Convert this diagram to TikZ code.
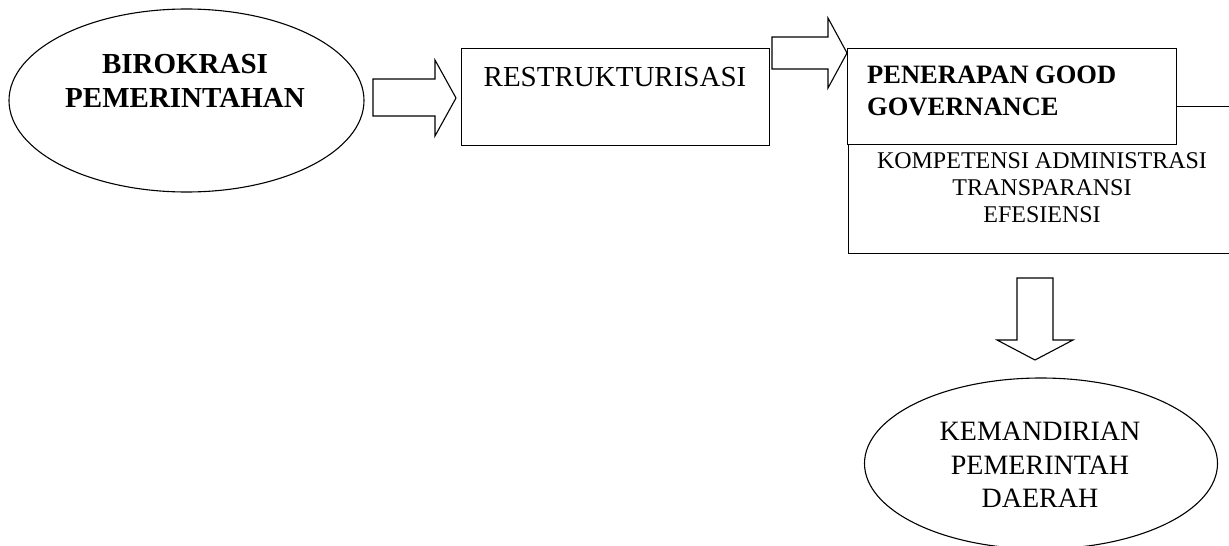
\documentclass[tikz,border=0pt]{standalone}
\usepackage{fontspec}
\setmainfont{Liberation Serif}
\usetikzlibrary{shapes.geometric}
\begin{document}
\begin{tikzpicture}[x=1pt,y=-1pt,
  outline/.style={draw=black,line width=1.1pt},
  oval/.style={outline,ellipse,inner sep=0pt},
  boxshape/.style={outline,rectangle,inner sep=0pt,anchor=north west},
  blockarrow/.style={outline,fill=white,line join=miter},
  txt/.style={inner sep=0pt,text=black}]
\useasboundingbox (0,0) rectangle (1229,546);
\clip (0,0) rectangle (1229,546);
\fill[white] (0,0) rectangle (1229,546);

% left ellipse
\node[oval,minimum width=355pt,minimum height=183pt] (birok) at (186.5,100.5) {};
\node[txt,align=center,font=\bfseries\fontsize{29}{34}\selectfont] (birokt) at (185,80.5) {BIROKRASI\\PEMERINTAHAN};

% arrow 1
\draw[blockarrow] (373,79) coordinate (a1s) -- (435,79) -- (435,60) -- (456,98) coordinate (a1t) -- (435,136) -- (435,116) -- (373,116) -- cycle;

% restrukturisasi box
\node[boxshape,minimum width=308pt,minimum height=97pt] (restr) at (461,48) {};
\node[txt,anchor=base,font=\fontsize{29}{34}\selectfont] (restrt) at (615,86) {RESTRUKTURISASI};

% arrow 2
\draw[blockarrow] (772,37) coordinate (a2s) -- (828,37) -- (828,18) -- (847,53) coordinate (a2t) -- (828,88) -- (828,69) -- (772,69) -- cycle;

% big box behind
\node[boxshape,minimum width=400pt,minimum height=147pt] (komp) at (848,106) {};
\node[txt,align=center,font=\fontsize{24}{27}\selectfont] (kompt) at (1042,187.5) {KOMPETENSI ADMINISTRASI\\TRANSPARANSI\\EFESIENSI};

% penerapan box on top
\node[boxshape,fill=white,minimum width=329pt,minimum height=96pt] (pener) at (847,48) {};
\node[txt,anchor=west,align=left,font=\bfseries\fontsize{26.5}{32}\selectfont] (penert) at (867,91) {PENERAPAN GOOD\\GOVERNANCE};

% down arrow
\draw[blockarrow] (1017,278) coordinate (a3s) -- (1053,278) -- (1053,340) -- (1073,340) -- (1035,360) coordinate (a3t) -- (997,340) -- (1017,340) -- cycle;

% bottom ellipse
\node[oval,minimum width=353pt,minimum height=171pt] (keman) at (1041,463.5) {};
\node[txt,align=center,font=\fontsize{28}{33.5}\selectfont] (kemant) at (1040,465) {KEMANDIRIAN\\PEMERINTAH\\DAERAH};
\end{tikzpicture}
\end{document}
